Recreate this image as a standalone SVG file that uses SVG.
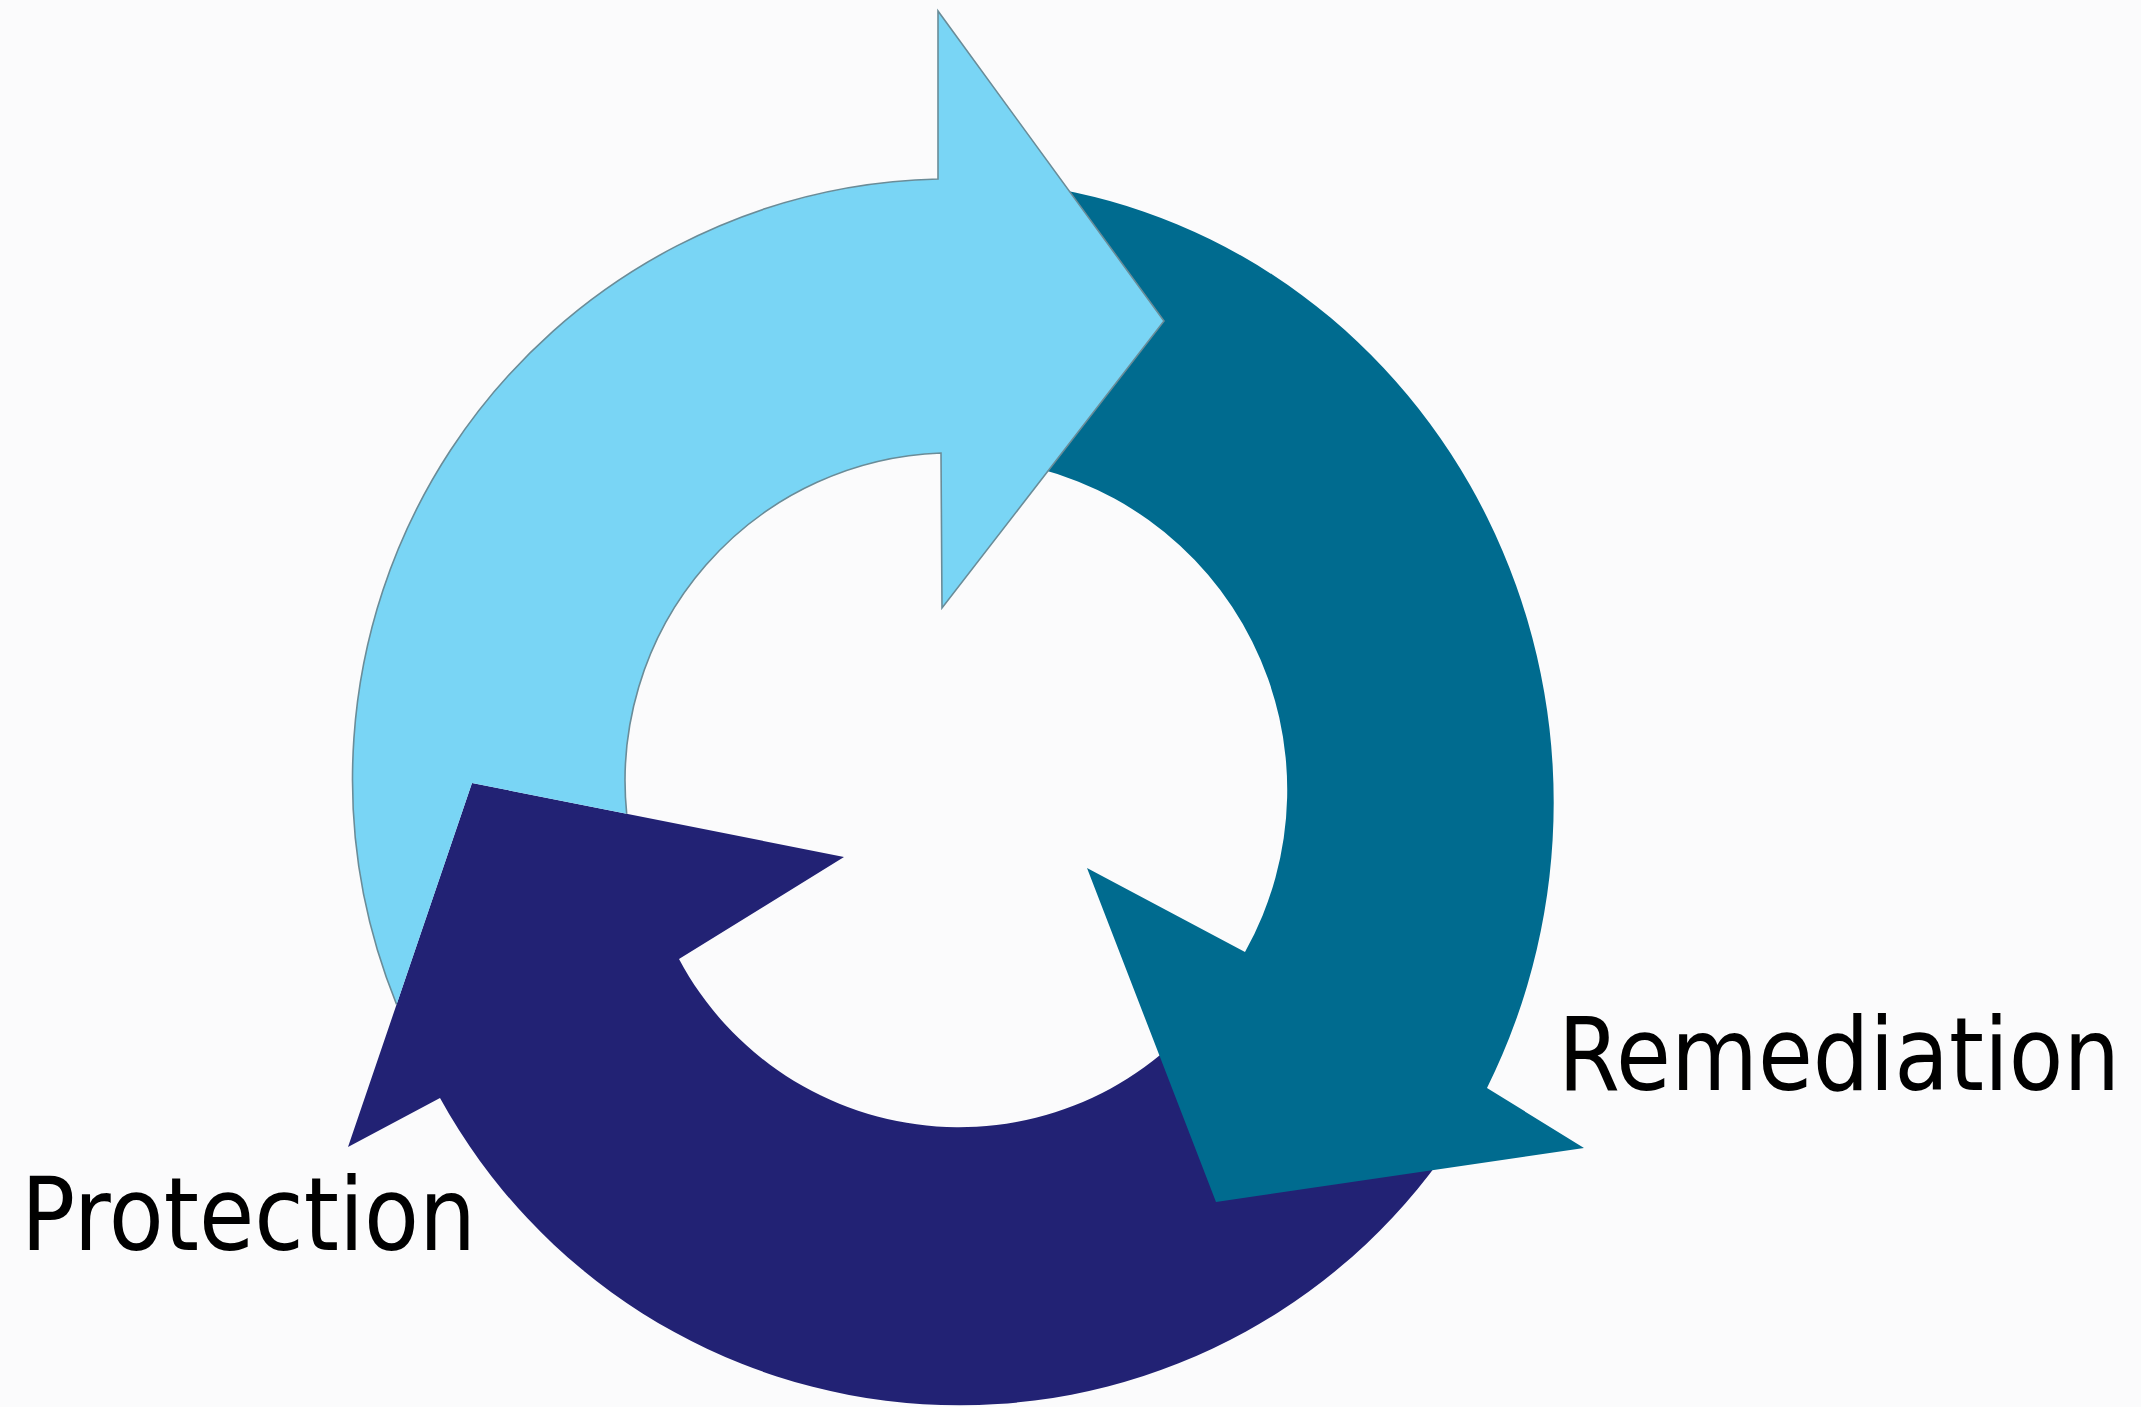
<svg xmlns="http://www.w3.org/2000/svg" width="2141" height="1407" viewBox="0 0 2141 1407">
  <style>
    .label { font-family: "DejaVu Sans", "Noto Sans", sans-serif; fill: #000000; }
    .fill-light { fill: #79D5F5; }
    .fill-teal { fill: #006B8F; }
    .fill-navy { fill: #222274; }
    .edge-light { fill: none; stroke: #6A8C98; stroke-width: 1.6; stroke-linejoin: miter; }
  </style>
  <rect x="0" y="0" width="2141" height="1407" fill="#FBFBFC"/>

  <!-- Bottom arc arrow (navy); its tail sits under the teal head -->
  <g id="arrow-navy">
    <path class="fill-navy" d="M 1440 1160 A 593 593 0 0 1 440 1098 L 348 1147 L 472 783 L 844 857 L 679 959 A 317 317 0 0 0 1215 997 Z"/>
    <text class="label" transform="translate(21 1250) scale(0.882 1)" x="0" y="0" font-size="102">Protection</text>
  </g>

  <!-- Right arc arrow (teal); its tail sits under the light-blue head -->
  <g id="arrow-teal">
    <path class="fill-teal" d="M 1040 186 A 600 623 0 0 1 1487 1088 L 1584 1148 L 1216 1202 L 1087 868 L 1245 952 A 332 332 0 0 0 1000 461 Z"/>
    <text class="label" transform="translate(1558 1090) scale(0.884 1)" x="0" y="0" font-size="101">Remediation</text>
  </g>

  <!-- Left/top arc arrow (light blue); tail cut along the navy head edges -->
  <g id="arrow-light">
    <path class="fill-light" d="M 396.6 1004.5 A 600 600 0 0 1 938 179 L 938 11 L 1164 321 L 942 608 L 941 453 A 328 328 0 0 0 626.7 813.8 L 472 783 Z"/>
    <path class="edge-light" d="M 396.6 1004.5 A 600 600 0 0 1 938 179 L 938 11 L 1164 321 L 942 608 L 941 453 A 328 328 0 0 0 626.7 813.8"/>
  </g>
</svg>
